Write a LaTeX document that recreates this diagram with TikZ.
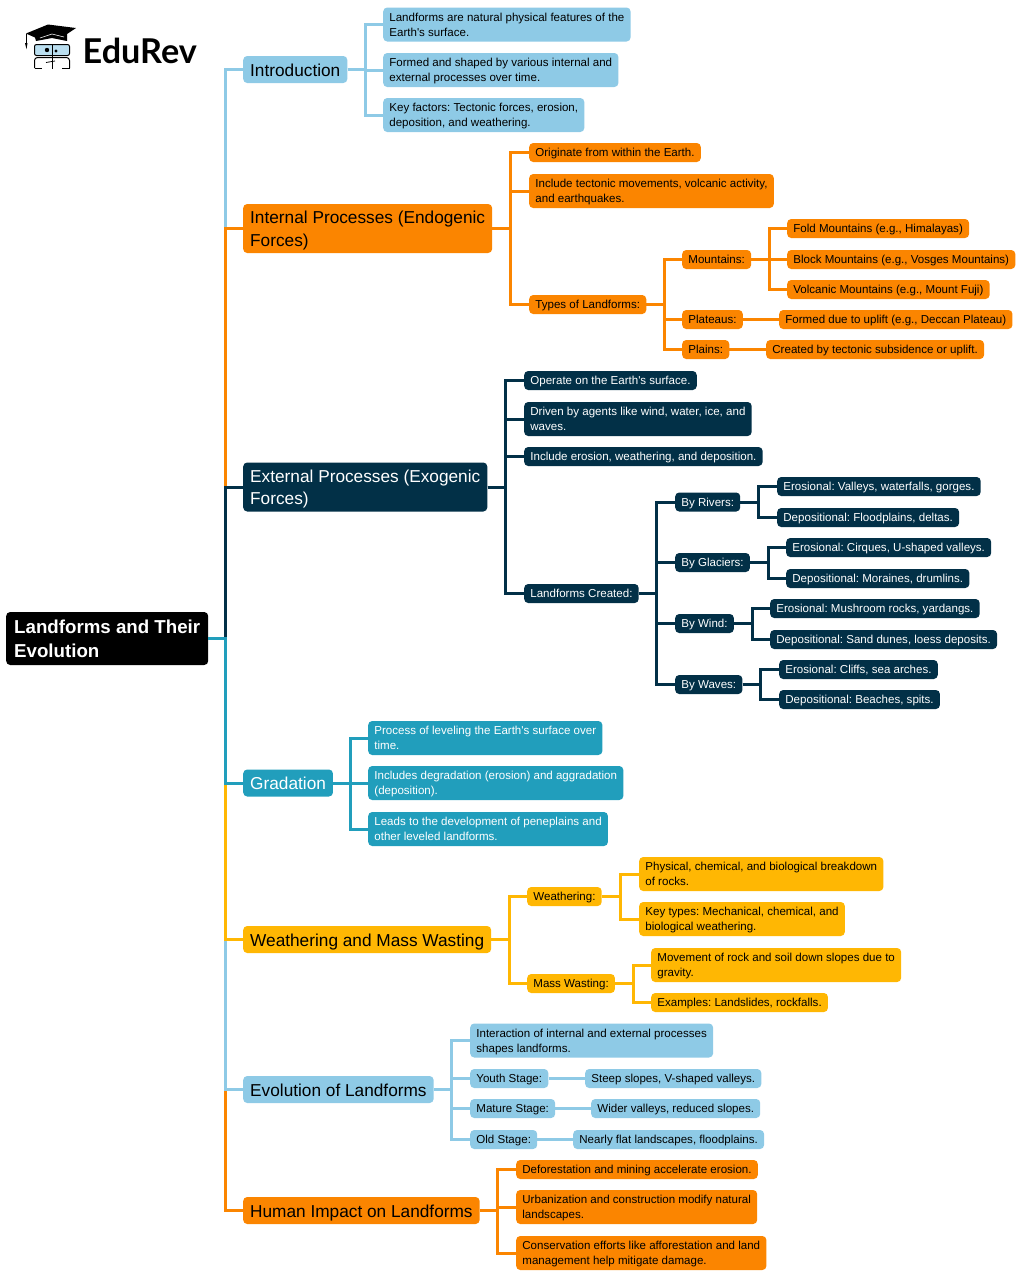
\documentclass[tikz,border=0pt]{standalone}
\usepackage{fontspec}
\setmainfont{Liberation Sans}
\newfontfamily\mapfont{Liberation Sans}
\newfontfamily\logofont{Lato}
\frenchspacing
\usetikzlibrary{calc}
\definecolor{sky}{HTML}{8ECAE6}
\definecolor{tang}{HTML}{FB8500}
\definecolor{navy}{HTML}{023047}
\definecolor{teal}{HTML}{219EBC}
\definecolor{amber}{HTML}{FFB703}
\tikzset{
    box/.style={anchor=west, rounded corners=4, inner ysep=0, inner xsep=6.2, align=left, text=black,
        font=\mapfont\fontsize{11.55}{15}\selectfont, text height=8.5, text depth=0.5, minimum height=19},
    two/.style={text height=23.5, minimum height=34},
    topic/.style={box, inner xsep=7, font=\mapfont\fontsize{17.25}{22.5}\selectfont, text height=13, text depth=0, minimum height=27},
    topictwo/.style={text height=35.5, minimum height=49},
    link/.style={line width=3, to path={-| ($(\tikztostart)!0.5!(\tikztotarget)$) |- (\tikztotarget)}}
}
\begin{document}
\begin{tikzpicture}[x=1pt,y=-1pt]
    \useasboundingbox (0,0) rectangle (1024,1277);

    \node[box, inner xsep=8, fill=black, text=white, font=\mapfont\fontsize{18.7}{24}\selectfont\bfseries, text height=37.5, text depth=0, minimum height=53] (root) at (6,638.5) {Landforms and Their\\Evolution};

    \node[topic, fill=sky] (intro) at (243,69.5) {Introduction};
    \node[box, two, fill=sky] (introa) at (383,24.5) {Landforms are natural physical features of the\\Earth's surface.};
    \node[box, two, fill=sky] (introb) at (383,70) {Formed and shaped by various internal and\\external processes over time.};
    \node[box, two, fill=sky] (introc) at (383,115) {Key factors: Tectonic forces, erosion,\\deposition, and weathering.};

    \node[topic, topictwo, fill=tang] (inter) at (243,228.5) {Internal Processes (Endogenic\\Forces)};
    \node[box, fill=tang] (intera) at (529,152.5) {Originate from within the Earth.};
    \node[box, two, fill=tang] (interb) at (529,191) {Include tectonic movements, volcanic activity,\\and earthquakes.};
    \node[box, fill=tang] (types) at (529,304.5) {Types of Landforms:};
    \node[box, fill=tang] (mount) at (682,259.5) {Mountains:};
    \node[box, fill=tang] (plat) at (682,319.5) {Plateaus:};
    \node[box, fill=tang] (plain) at (682,349.5) {Plains:};
    \node[box, fill=tang] (fold) at (787,228.5) {Fold Mountains (e.g., Himalayas)};
    \node[box, fill=tang] (block) at (787,259.5) {Block Mountains (e.g., Vosges Mountains)};
    \node[box, fill=tang] (volc) at (787,289.5) {Volcanic Mountains (e.g., Mount Fuji)};
    \node[box, fill=tang] (uplift) at (779,319.5) {Formed due to uplift (e.g., Deccan Plateau)};
    \node[box, fill=tang] (subs) at (766,349.5) {Created by tectonic subsidence or uplift.};

    \node[topic, topictwo, fill=navy, text=white] (exter) at (243,487) {External Processes (Exogenic\\Forces)};
    \node[box, fill=navy, text=white] (extera) at (524,380.5) {Operate on the Earth's surface.};
    \node[box, two, fill=navy, text=white] (exterb) at (524,419) {Driven by agents like wind, water, ice, and\\waves.};
    \node[box, fill=navy, text=white] (exterc) at (524,456.5) {Include erosion, weathering, and deposition.};
    \node[box, fill=navy, text=white] (made) at (524,593.5) {Landforms Created:};
    \node[box, fill=navy, text=white] (river) at (675,502) {By Rivers:};
    \node[box, fill=navy, text=white] (glac) at (675,562.5) {By Glaciers:};
    \node[box, fill=navy, text=white] (wind) at (675,623.5) {By Wind:};
    \node[box, fill=navy, text=white] (wave) at (675,684.5) {By Waves:};
    \node[box, fill=navy, text=white] (rivera) at (777,486.5) {Erosional: Valleys, waterfalls, gorges.};
    \node[box, fill=navy, text=white] (riverb) at (777,517.5) {Depositional: Floodplains, deltas.};
    \node[box, fill=navy, text=white] (glaca) at (786,547.5) {Erosional: Cirques, U-shaped valleys.};
    \node[box, fill=navy, text=white] (glacb) at (786,578.5) {Depositional: Moraines, drumlins.};
    \node[box, fill=navy, text=white] (winda) at (770,608.5) {Erosional: Mushroom rocks, yardangs.};
    \node[box, fill=navy, text=white] (windb) at (770,639.5) {Depositional: Sand dunes, loess deposits.};
    \node[box, fill=navy, text=white] (wavea) at (779,669.5) {Erosional: Cliffs, sea arches.};
    \node[box, fill=navy, text=white] (waveb) at (779,699.5) {Depositional: Beaches, spits.};

    \node[topic, fill=teal, text=white] (grad) at (243,783) {Gradation};
    \node[box, two, fill=teal, text=white] (grada) at (368,738) {Process of leveling the Earth's surface over\\time.};
    \node[box, two, fill=teal, text=white] (gradb) at (368,783) {Includes degradation (erosion) and aggradation\\(deposition).};
    \node[box, two, fill=teal, text=white] (gradc) at (368,829) {Leads to the development of peneplains and\\other leveled landforms.};

    \node[topic, fill=amber] (weath) at (243,939.5) {Weathering and Mass Wasting};
    \node[box, fill=amber] (wing) at (527,896.5) {Weathering:};
    \node[box, fill=amber] (mass) at (527,983.5) {Mass Wasting:};
    \node[box, two, fill=amber] (winga) at (639,874) {Physical, chemical, and biological breakdown\\of rocks.};
    \node[box, two, fill=amber] (wingb) at (639,919) {Key types: Mechanical, chemical, and\\biological weathering.};
    \node[box, two, fill=amber] (massa) at (651,965) {Movement of rock and soil down slopes due to\\gravity.};
    \node[box, fill=amber] (massb) at (651,1002.5) {Examples: Landslides, rockfalls.};

    \node[topic, fill=sky] (evol) at (243,1089.5) {Evolution of Landforms};
    \node[box, two, fill=sky] (evola) at (470,1040.5) {Interaction of internal and external processes\\shapes landforms.};
    \node[box, fill=sky] (young) at (470,1078.5) {Youth Stage:};
    \node[box, fill=sky] (mature) at (470,1108.5) {Mature Stage:};
    \node[box, fill=sky] (old) at (470,1139.5) {Old Stage:};
    \node[box, fill=sky] (younga) at (585,1078.5) {Steep slopes, V-shaped valleys.};
    \node[box, fill=sky] (maturea) at (591,1108.5) {Wider valleys, reduced slopes.};
    \node[box, fill=sky] (olda) at (573,1139.5) {Nearly flat landscapes, floodplains.};

    \node[topic, fill=tang] (human) at (243,1210.5) {Human Impact on Landforms};
    \node[box, fill=tang] (humana) at (516,1169.5) {Deforestation and mining accelerate erosion.};
    \node[box, two, fill=tang] (humanb) at (516,1207) {Urbanization and construction modify natural\\landscapes.};
    \node[box, two, fill=tang] (humanc) at (516,1253) {Conservation efforts like afforestation and land\\management help mitigate damage.};

    \draw[link, sky] (root.east) to (intro.west);
    \draw[link, tang] (root.east) to (inter.west);
    \draw[link, navy] (root.east) to (exter.west);
    \draw[link, tang] (root.east) to (human.west);
    \draw[link, sky] (root.east) to (evol.west);
    \draw[link, amber] (root.east) to (weath.west);
    \draw[link, teal] (root.east) to (grad.west);

    \draw[link, sky] (intro.east) to (introa.west);
    \draw[link, sky] (intro.east) to (introb.west);
    \draw[link, sky] (intro.east) to (introc.west);

    \draw[link, tang] (inter.east) to (intera.west);
    \draw[link, tang] (inter.east) to (interb.west);
    \draw[link, tang] (inter.east) to (types.west);
    \draw[link, tang] (types.east) to (mount.west);
    \draw[link, tang] (types.east) to (plat.west);
    \draw[link, tang] (types.east) to (plain.west);
    \draw[link, tang] (mount.east) to (fold.west);
    \draw[link, tang] (mount.east) to (block.west);
    \draw[link, tang] (mount.east) to (volc.west);
    \draw[link, tang] (plat.east) to (uplift.west);
    \draw[link, tang] (plain.east) to (subs.west);

    \draw[link, navy] (exter.east) to (extera.west);
    \draw[link, navy] (exter.east) to (exterb.west);
    \draw[link, navy] (exter.east) to (exterc.west);
    \draw[link, navy] (exter.east) to (made.west);
    \draw[link, navy] (made.east) to (river.west);
    \draw[link, navy] (made.east) to (glac.west);
    \draw[link, navy] (made.east) to (wind.west);
    \draw[link, navy] (made.east) to (wave.west);
    \draw[link, navy] (river.east) to (rivera.west);
    \draw[link, navy] (river.east) to (riverb.west);
    \draw[link, navy] (glac.east) to (glaca.west);
    \draw[link, navy] (glac.east) to (glacb.west);
    \draw[link, navy] (wind.east) to (winda.west);
    \draw[link, navy] (wind.east) to (windb.west);
    \draw[link, navy] (wave.east) to (wavea.west);
    \draw[link, navy] (wave.east) to (waveb.west);

    \draw[link, teal] (grad.east) to (grada.west);
    \draw[link, teal] (grad.east) to (gradb.west);
    \draw[link, teal] (grad.east) to (gradc.west);

    \draw[link, amber] (weath.east) to (wing.west);
    \draw[link, amber] (weath.east) to (mass.west);
    \draw[link, amber] (wing.east) to (winga.west);
    \draw[link, amber] (wing.east) to (wingb.west);
    \draw[link, amber] (mass.east) to (massa.west);
    \draw[link, amber] (mass.east) to (massb.west);

    \draw[link, sky] (evol.east) to (evola.west);
    \draw[link, sky] (evol.east) to (young.west);
    \draw[link, sky] (evol.east) to (mature.west);
    \draw[link, sky] (evol.east) to (old.west);
    \draw[link, sky] (young.east) to (younga.west);
    \draw[link, sky] (mature.east) to (maturea.west);
    \draw[link, sky] (old.east) to (olda.west);

    \draw[link, tang] (human.east) to (humana.west);
    \draw[link, tang] (human.east) to (humanb.west);
    \draw[link, tang] (human.east) to (humanc.west);

    \node[anchor=west, inner sep=0, font=\logofont\bfseries\fontsize{34.2}{34}\selectfont] (brand) at (82.5,51) {EduRev};
    \fill (26,33.5) -- (48,24.5) -- (76,28) -- (67,34) -- (67,41) -- (52,38) -- (36,41) -- (35,37.5) -- cycle;
    \draw[white, line width=.6] (40,38) -- (52,34) -- (64,37);
    \draw[line width=1] (26,34) -- (26,44);
    \fill (25,43) -- (27.5,43) -- (26.5,49) -- cycle;
    \draw[line width=1, rounded corners=2, fill=sky!60] (34.5,44.5) rectangle (69.5,55.5);
    \draw[line width=1, rounded corners=3] (34.5,68) -- (34.5,57.5) -- (69.5,57.5) -- (69.5,68);
    \draw[line width=1] (34.5,68) -- (42,68) (62,68) -- (69.5,68);
    \draw[line width=1] (52,44.5) -- (52,69);
    \draw[line width=.8] (46,62.5) -- (55,61);
    \fill (47,50) circle (2.2);
    \fill (56,51) circle (1.6);
\end{tikzpicture}
\end{document}
